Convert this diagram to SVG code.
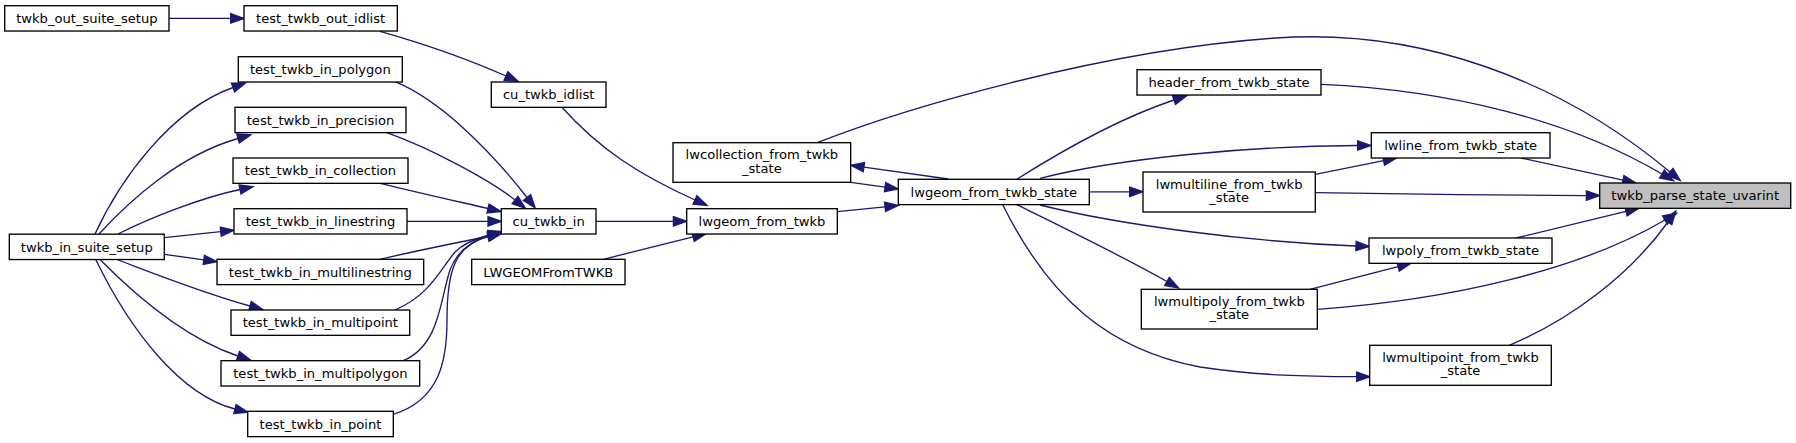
<svg xmlns="http://www.w3.org/2000/svg" width="1796" height="443" viewBox="0 0 1796 443">
<style>
.n rect{fill:#ffffff;stroke:#000000;stroke-width:1.33}
.n.main rect{fill:#bfbfbf}
.n text{font-family:"DejaVu Sans",sans-serif;font-size:13.1px;fill:#000000;text-anchor:middle}
.e path{fill:none;stroke:#191970;stroke-width:1.33;marker-end:url(#ah)}
</style>
<defs>
<marker id="ah" markerUnits="userSpaceOnUse" markerWidth="16" markerHeight="12" viewBox="-1 -6 16 12" refX="0" refY="0" orient="auto" overflow="visible">
<path d="M0,-4.67 L13.33,0 L0,4.67 z" fill="#191970" stroke="#191970" stroke-width="1.33"/>
</marker>
</defs>
<rect width="1796" height="443" fill="#ffffff"/>
<g id="edges" class="e">
<path d="M169,18.4 L230.7,18.4"/>
<path d="M380,31.3 C425,44 470,60 506,76"/>
<path d="M95,234 C120,180 170,110 233,87.5"/>
<path d="M99,234 C130,200 180,155 238,138.5"/>
<path d="M118,234 C150,218 200,198 240,189.5"/>
<path d="M164.3,237.7 L220.75,231.7"/>
<path d="M164.3,254.3 L203.8,259.85"/>
<path d="M118.3,260 C150,272 200,292 250,306"/>
<path d="M100,259.5 C140,300 190,340 238,356"/>
<path d="M95.7,259.5 C130,330 180,395 235,409"/>
<path d="M395,81.7 C440,100 490,150 527,197.5"/>
<path d="M386.7,132.7 C430,148 490,180 515,200"/>
<path d="M380,183.3 C420,193 460,202 488,208.5"/>
<path d="M407,221.3 L488,221.3"/>
<path d="M380,259.3 C420,250 460,242 488,236.5"/>
<path d="M395,310 C430,295 440,270 455,252 C465,242 478,238 489,235"/>
<path d="M403.3,360.7 C440,345 440,300 450,270 C458,248 475,240 489,236"/>
<path d="M393.3,414.3 C440,400 447,360 447,320 C447,270 455,245 489,236"/>
<path d="M561.7,107 C600,150 640,175 695,200"/>
<path d="M596,221.3 L673.4,221.3"/>
<path d="M603.3,259.3 L693.1,236.9"/>
<path d="M837.3,211.7 L885.04,206.85"/>
<path d="M850.7,182.3 L885.1,187.1"/>
<path d="M948.3,179 L863.9,167.15"/>
<path d="M1016.7,179.3 C1060,152 1120,118 1174,100"/>
<path d="M1040,178.3 C1120,158 1250,146 1357.7,145.5"/>
<path d="M1089.3,191.8 L1129.7,191.8"/>
<path d="M1040,205 C1120,225 1250,242 1356,246"/>
<path d="M1016.7,204.7 C1060,226 1120,255 1167,281.5"/>
<path d="M1002.7,204.7 C1050,300 1110,350 1200,367 C1260,376 1310,376.5 1356.7,376.7"/>
<path d="M1315.3,174.3 L1383.6,160.6"/>
<path d="M1310,289.3 L1398.1,266.6"/>
<path d="M817.3,142.7 C900,110 1100,50 1276,38 C1420,28 1560,80 1670,172"/>
<path d="M1321,84.3 C1450,90 1570,120 1662,174"/>
<path d="M1521,158 L1623,180.2"/>
<path d="M1315.3,192.7 C1400,194 1500,195.5 1586.4,195.6"/>
<path d="M1516,238 L1626,211.4"/>
<path d="M1317.3,309.3 C1450,300 1580,270 1665,220"/>
<path d="M1509.3,345.3 C1570,320 1630,275 1668,222"/>
</g>
<g id="twkb_out_suite_setup" class="n"><rect x="4.7" y="5.7" width="164.3" height="25.33"/><text x="86.85" y="23">twkb_out_suite_setup</text></g>
<g id="test_twkb_out_idlist" class="n"><rect x="244" y="5.7" width="153.3" height="25.33"/><text x="320.65" y="23">test_twkb_out_idlist</text></g>
<g id="test_twkb_in_polygon" class="n"><rect x="238.3" y="56.7" width="164" height="25.33"/><text x="320.3" y="74">test_twkb_in_polygon</text></g>
<g id="cu_twkb_idlist" class="n"><rect x="491.3" y="82" width="114.7" height="25.33"/><text x="548.65" y="99.3">cu_twkb_idlist</text></g>
<g id="test_twkb_in_precision" class="n"><rect x="235" y="107.3" width="171" height="25.33"/><text x="320.5" y="124.6">test_twkb_in_precision</text></g>
<g id="test_twkb_in_collection" class="n"><rect x="233" y="158" width="175" height="25.33"/><text x="320.5" y="175.3">test_twkb_in_collection</text></g>
<g id="test_twkb_in_linestring" class="n"><rect x="234" y="208.7" width="173" height="25.33"/><text x="320.5" y="226">test_twkb_in_linestring</text></g>
<g id="cu_twkb_in" class="n"><rect x="501.3" y="208.7" width="94.7" height="25.33"/><text x="548.65" y="226">cu_twkb_in</text></g>
<g id="twkb_in_suite_setup" class="n"><rect x="9.3" y="234.2" width="155" height="25.33"/><text x="86.8" y="251.5">twkb_in_suite_setup</text></g>
<g id="test_twkb_in_multilinestring" class="n"><rect x="217" y="259.3" width="206.7" height="25.33"/><text x="320.35" y="276.6">test_twkb_in_multilinestring</text></g>
<g id="LWGEOMFromTWKB" class="n"><rect x="471.7" y="259.3" width="153.3" height="25.33"/><text x="548.35" y="276.6">LWGEOMFromTWKB</text></g>
<g id="test_twkb_in_multipoint" class="n"><rect x="231" y="310" width="178.7" height="25.33"/><text x="320.35" y="327.3">test_twkb_in_multipoint</text></g>
<g id="test_twkb_in_multipolygon" class="n"><rect x="221" y="360.7" width="198.7" height="25.33"/><text x="320.35" y="378">test_twkb_in_multipolygon</text></g>
<g id="test_twkb_in_point" class="n"><rect x="247.7" y="411.3" width="145.6" height="25.33"/><text x="320.5" y="428.6">test_twkb_in_point</text></g>
<g id="lwgeom_from_twkb" class="n"><rect x="686.7" y="208.7" width="150.6" height="25.33"/><text x="762" y="226">lwgeom_from_twkb</text></g>
<g id="lwcollection_from_twkb_state" class="n"><rect x="673" y="142.7" width="177.7" height="39.6"/><text x="761.85" y="159.3">lwcollection_from_twkb</text><text x="761.85" y="172.7">_state</text></g>
<g id="lwgeom_from_twkb_state" class="n"><rect x="898.3" y="179.3" width="191" height="25.33"/><text x="993.8" y="196.6">lwgeom_from_twkb_state</text></g>
<g id="header_from_twkb_state" class="n"><rect x="1137" y="69.7" width="184" height="25.33"/><text x="1229" y="87">header_from_twkb_state</text></g>
<g id="lwline_from_twkb_state" class="n"><rect x="1371.3" y="132.7" width="178.7" height="25.33"/><text x="1460.65" y="150">lwline_from_twkb_state</text></g>
<g id="lwmultiline_from_twkb_state" class="n"><rect x="1143" y="172" width="172.3" height="40"/><text x="1229.15" y="188.6">lwmultiline_from_twkb</text><text x="1229.15" y="202">_state</text></g>
<g id="lwpoly_from_twkb_state" class="n"><rect x="1369" y="238" width="183" height="25.33"/><text x="1460.5" y="255.3">lwpoly_from_twkb_state</text></g>
<g id="lwmultipoly_from_twkb_state" class="n"><rect x="1141.3" y="289.3" width="176" height="39.7"/><text x="1229.3" y="305.9">lwmultipoly_from_twkb</text><text x="1229.3" y="319.3">_state</text></g>
<g id="lwmultipoint_from_twkb_state" class="n"><rect x="1369.7" y="345.3" width="181.6" height="40"/><text x="1460.5" y="361.9">lwmultipoint_from_twkb</text><text x="1460.5" y="375.3">_state</text></g>
<g id="twkb_parse_state_uvarint" class="n main"><rect x="1599.7" y="183" width="191" height="25.33"/><text x="1695.2" y="200.3">twkb_parse_state_uvarint</text></g>
</svg>
